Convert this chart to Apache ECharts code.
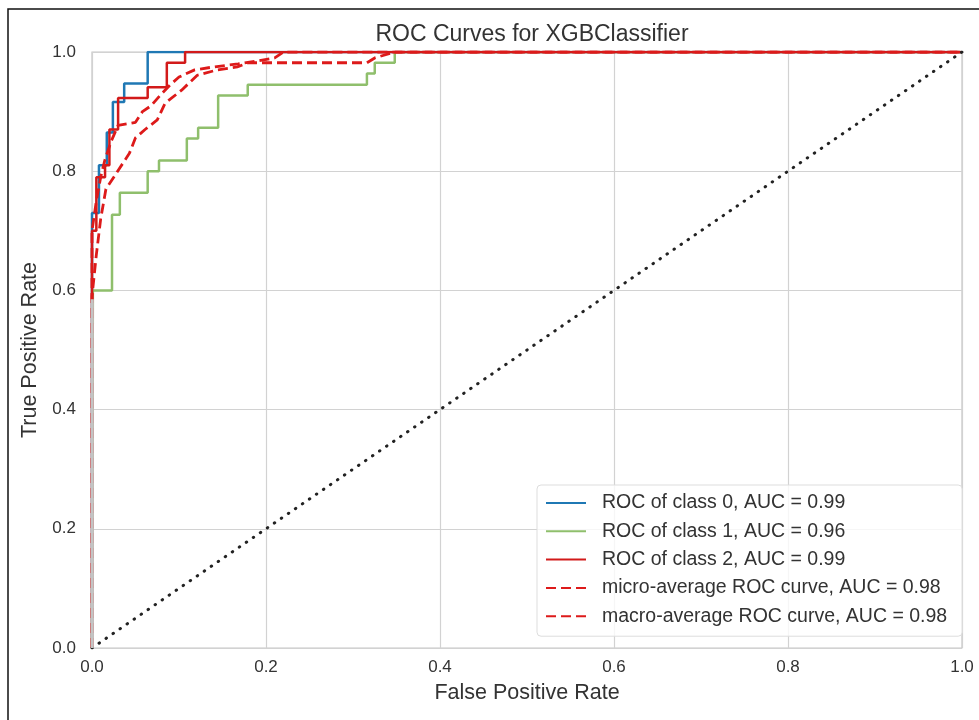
<!DOCTYPE html>
<html>
<head>
<meta charset="utf-8">
<script src="https://cdn.jsdelivr.net/npm/echarts@6/dist/echarts.min.js"></script>
<style>
  html, body { margin: 0; background: #fff; }
  #rocChart { width: 979px; height: 720px; }
</style>
</head>
<body>
<div id="rocChart"></div>
<script>
// values (fpr, tpr corner points)
var class0Fpr = [0, 0, 0.008, 0.008, 0.017, 0.017, 0.024, 0.024, 0.037, 0.037, 0.064, 0.064, 1];
var class0Tpr = [0, 0.73, 0.73, 0.81, 0.81, 0.865, 0.865, 0.916, 0.916, 0.947, 0.947, 1, 1];

var class1Fpr = [0, 0.001, 0.001, 0.023, 0.023, 0.032, 0.032, 0.064, 0.064, 0.077, 0.077, 0.109, 0.109, 0.122, 0.122, 0.145, 0.145, 0.179, 0.179, 0.316, 0.316, 0.325, 0.325, 0.348, 0.348, 1];
var class1Tpr = [0, 0, 0.6, 0.6, 0.727, 0.727, 0.764, 0.764, 0.8, 0.8, 0.818, 0.818, 0.855, 0.855, 0.873, 0.873, 0.927, 0.927, 0.945, 0.945, 0.964, 0.964, 0.982, 0.982, 1, 1];

var class2Fpr = [0, 0, 0.005, 0.005, 0.015, 0.015, 0.02, 0.02, 0.03, 0.03, 0.064, 0.064, 0.086, 0.086, 0.107, 0.107, 1];
var class2Tpr = [0, 0.70, 0.70, 0.79, 0.79, 0.81, 0.81, 0.87, 0.87, 0.923, 0.923, 0.941, 0.941, 0.982, 0.982, 1, 1];

var microFpr = [0, 0, 0.005, 0.01, 0.015, 0.022, 0.03, 0.05, 0.058, 0.068, 0.08, 0.09, 0.1, 0.118, 0.14, 0.168, 0.19, 0.21, 0.22, 1];
var microTpr = [0, 0.70, 0.75, 0.79, 0.82, 0.85, 0.877, 0.882, 0.9, 0.91, 0.93, 0.945, 0.958, 0.97, 0.975, 0.98, 0.985, 0.99, 1, 1];

var macroFpr = [0, 0, 0.005, 0.01, 0.016, 0.025, 0.043, 0.05, 0.061, 0.075, 0.084, 0.103, 0.121, 0.144, 0.167, 0.18, 0.316, 0.325, 0.348, 1];
var macroTpr = [0, 0.59, 0.66, 0.72, 0.77, 0.79, 0.83, 0.856, 0.87, 0.886, 0.914, 0.936, 0.961, 0.97, 0.975, 0.982, 0.982, 0.99, 1, 1];

var diagonal = [[0, 0], [1, 1]];

var seriesNames = [
  'ROC of class 0, AUC = 0.99',
  'ROC of class 1, AUC = 0.96',
  'ROC of class 2, AUC = 0.99',
  'micro-average ROC curve, AUC = 0.98',
  'macro-average ROC curve, AUC = 0.98'
];
var axisTicks = [0, 0.2, 0.4, 0.6, 0.8, 1.0];

function zip(xs, ys) {
  var out = [];
  for (var i = 0; i < xs.length; i++) out.push([xs[i], ys[i]]);
  return out;
}

function curve(name, data, color, dashed) {
  return {
    name: name,
    type: 'line',
    data: data,
    symbol: 'none',
    itemStyle: { color: color },
    lineStyle: { color: color, width: dashed ? 2.8 : 2.5, type: dashed ? [10, 5] : 'solid' }
  };
}

var chart = echarts.init(document.getElementById('rocChart'));
var fontFam = 'Liberation Sans, Arial, sans-serif';

chart.setOption({
  animation: false,
  backgroundColor: '#fff',
  title: {
    text: 'ROC Curves for XGBClassifier',
    left: 527,
    textAlign: 'center',
    top: 18,
    textStyle: { fontSize: 23, fontWeight: 'normal', color: '#333', fontFamily: fontFam }
  },
  grid: {
    left: 92, right: 17, top: 52, bottom: 72,
    show: true, borderColor: '#c6c6c6', borderWidth: 1.2
  },
  legend: {
    data: seriesNames,
    orient: 'vertical',
    left: 537,
    top: 485,
    itemWidth: 40,
    itemHeight: 14,
    itemGap: 8.3,
    padding: [8, 15, 10, 8],
    backgroundColor: 'rgba(255,255,255,0.8)',
    borderColor: '#dddddd',
    borderWidth: 1,
    borderRadius: 4,
    itemStyle: { opacity: 0 },
    textStyle: { fontSize: 19.5, color: '#333', fontFamily: fontFam, lineHeight: 20, padding: [0, 0, 0, 11] }
  },
  xAxis: {
    type: 'value',
    min: axisTicks[0],
    max: axisTicks[axisTicks.length - 1],
    interval: 0.2,
    name: 'False Positive Rate',
    nameLocation: 'middle',
    nameGap: 34,
    nameTextStyle: { fontSize: 21.5, color: '#333', fontFamily: fontFam },
    axisLine: { show: false },
    axisTick: { show: false },
    axisLabel: { margin: 11, fontSize: 17, color: '#333', fontFamily: fontFam, formatter: function (v) { return v.toFixed(1); } },
    splitLine: { lineStyle: { color: '#d2d2d2', width: 1.2 } }
  },
  yAxis: {
    type: 'value',
    min: axisTicks[0],
    max: axisTicks[axisTicks.length - 1],
    interval: 0.2,
    name: 'True Positive Rate',
    nameLocation: 'middle',
    nameGap: 47,
    nameTextStyle: { fontSize: 21.5, color: '#333', fontFamily: fontFam },
    axisLine: { show: false },
    axisTick: { show: false },
    axisLabel: { margin: 16, fontSize: 17, color: '#333', fontFamily: fontFam, formatter: function (v) { return v.toFixed(1); } },
    splitLine: { lineStyle: { color: '#d2d2d2', width: 1.2 } }
  },
  series: [
    curve(seriesNames[0], zip(class0Fpr, class0Tpr), '#1f78b4', false),
    curve(seriesNames[1], zip(class1Fpr, class1Tpr), '#8fbf6c', false),
    curve(seriesNames[2], zip(class2Fpr, class2Tpr), '#d21a1a', false),
    curve(seriesNames[3], zip(microFpr, microTpr), '#dd1a1a', true),
    curve(seriesNames[4], zip(macroFpr, macroTpr), '#dd1a1a', true),
    {
      name: 'chance',
      type: 'line',
      data: diagonal,
      symbol: 'none',
      lineStyle: { color: '#222', width: 3, type: [0.5, 8], cap: 'round' }
    }
  ]
});

// matplotlib clips the curves at the axes edge; hide the half that runs on the left spine
var p0 = chart.convertToPixel({ gridIndex: 0 }, [0, 0]);
var p1 = chart.convertToPixel({ gridIndex: 0 }, [0, 0.585]);
chart.setOption({
  graphic: [
    {
      type: 'rect',
      shape: { x: 8, y: 9, width: 1100, height: 1000 },
      style: { fill: null, stroke: '#111', lineWidth: 1.5 },
      silent: true
    },
    {
      type: 'line',
      z: 100,
      shape: { x1: p0[0] + 0.2, y1: p0[1], x2: p1[0] + 0.2, y2: p1[1] },
      style: { stroke: '#c4c4c4', lineWidth: 3.2 },
      silent: true
    }
  ]
});
</script>
</body>
</html>
